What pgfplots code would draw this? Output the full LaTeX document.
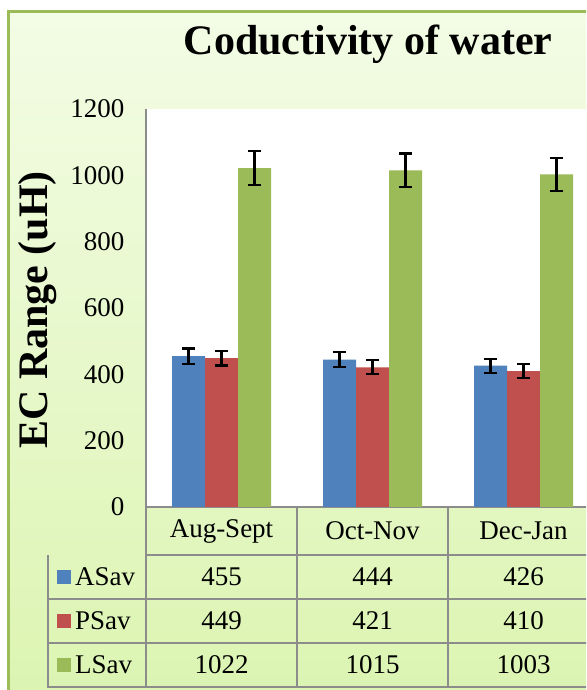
\documentclass[border=0pt]{standalone}
\usepackage{fontspec}
\setmainfont{Liberation Serif}
\usepackage{pgfplots}
\pgfplotsset{compat=1.18}

\definecolor{asav}{HTML}{4F81BD}
\definecolor{psav}{HTML}{C0504D}
\definecolor{lsav}{HTML}{9BBB59}
\definecolor{bgtop}{HTML}{F3FCE5}
\definecolor{bgbot}{HTML}{DBF4B0}
\definecolor{framegreen}{HTML}{9BBB59}
\definecolor{gridgray}{HTML}{8C8C8C}

\pgfplotstableread{
x  a    ae     p    pe     l     le
0  455  22.75  449  22.45  1022  51.1
1  444  22.2   421  21.05  1015  50.75
2  426  21.3   410  20.5   1003  50.15
}\ecdata

\newcommand{\tabfont}{\fontsize{27}{30}\selectfont}

\begin{document}
\begin{tikzpicture}[x=1pt,y=1pt]
\useasboundingbox (0,0) rectangle (586,690);
\clip (0,0) rectangle (586,690);
\fill[white] (0,0) rectangle (586,690);
% chart area background and border
\shade[top color=bgtop, bottom color=bgbot] (8,-30) rectangle (640,678);
\draw[framegreen, line width=3pt] (8,-30) -- (8,678) -- (640,678);

\node[font=\bfseries\fontsize{42}{46}\selectfont] at (368,646) {Coductivity of water};
\node[rotate=90, font=\bfseries\fontsize{42}{46}\selectfont] at (38,380) {EC Range (uH)};

\begin{axis}[
  at={(146pt,183pt)}, anchor=south west,
  scale only axis, width=453pt, height=398pt,
  axis background/.style={fill=white},
  xmin=-0.5, xmax=2.5, ymin=0, ymax=1200,
  xtick=\empty,
  ytick={0,200,...,1200},
  major tick length=0pt,
  axis x line*=bottom, axis y line*=left,
  axis line style={draw=gridgray, line width=1.5pt},
  yticklabel style={font=\tabfont, xshift=-18pt,
    /pgf/number format/assume math mode=true,
    /pgf/number format/1000 sep={}},
  ybar=0pt, bar width=33pt,
  error bars/y dir=both, error bars/y explicit,
  error bars/error bar style={line width=2.2pt, black},
  error bars/error mark options={rotate=90, mark size=6.5pt, line width=2.2pt, black},
  clip=false,
]
\addplot[fill=asav, draw=none] table[x=x, y=a, y error=ae] {\ecdata};
\addplot[fill=psav, draw=none] table[x=x, y=p, y error=pe] {\ecdata};
\addplot[fill=lsav, draw=none] table[x=x, y=l, y error=le] {\ecdata};
\end{axis}

% data table
\begin{scope}[draw=gridgray, line width=1.5pt]
\draw (146,135) -- (620,135);
\draw (48,135) -- (48,3) -- (620,3);
\draw (48,91) -- (620,91);
\draw (48,47) -- (620,47);
\foreach \xx in {146,297,448,599} \draw (\xx,183) -- (\xx,3);
\end{scope}

\node[font=\tabfont] at (221.5,159) {Aug-Sept};
\node[font=\tabfont] at (372.5,159) {Oct-Nov};
\node[font=\tabfont] at (523.5,159) {Dec-Jan};

\fill[asav] (57,106) rectangle (71,120);
\node[font=\tabfont, anchor=west, inner sep=0pt] at (75,113) {ASav};
\fill[psav] (57,62) rectangle (71,76);
\node[font=\tabfont, anchor=west, inner sep=0pt] at (75,69) {PSav};
\fill[lsav] (57,18) rectangle (71,32);
\node[font=\tabfont, anchor=west, inner sep=0pt] at (75,25) {LSav};

\foreach \v/\xx in {455/221.5,444/372.5,426/523.5} \node[font=\tabfont] at (\xx,113) {\v};
\foreach \v/\xx in {449/221.5,421/372.5,410/523.5} \node[font=\tabfont] at (\xx,69) {\v};
\foreach \v/\xx in {1022/221.5,1015/372.5,1003/523.5} \node[font=\tabfont] at (\xx,25) {\v};
\end{tikzpicture}
\end{document}
